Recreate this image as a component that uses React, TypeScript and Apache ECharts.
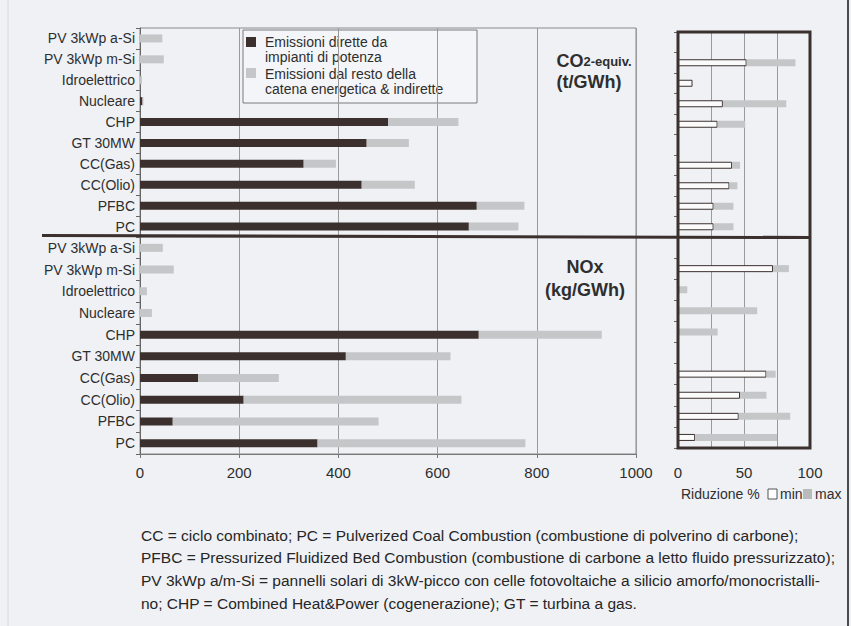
import React, { useEffect, useRef } from "react";
import * as echarts from "echarts";

const CATEGORIES = ["PV 3kWp a-Si", "PV 3kWp m-Si", "Idroelettrico", "Nucleare", "CHP", "GT 30MW", "CC(Gas)", "CC(Olio)", "PFBC", "PC"];

// CO2-equiv. (t/GWh)
const CO2_DIRECT = [0, 0, 0, 5, 500, 457, 330, 447, 679, 663];
const CO2_INDIRECT = [45, 48, 4, 2, 142, 85, 65, 107, 96, 100];
// NOx (kg/GWh)
const NOX_DIRECT = [0, 0, 0, 0, 683, 415, 117, 209, 66, 358];
const NOX_INDIRECT = [46, 68, 14, 24, 248, 211, 163, 439, 415, 419];
// Riduzione % (min / max)
const RED_CO2_MIN = [null, 52, 11, 34, 30, null, 41, 39, 27, 27];
const RED_CO2_MAX = [null, 89, 11, 82, 51, null, 47, 45, 42, 42];
const RED_NOX_MIN = [null, 72, 0, 0, 0, null, 67, 47, 46, 13];
const RED_NOX_MAX = [null, 84, 7, 60, 30, null, 74, 67, 85, 75];

const X_TICKS_LEFT = [0, 200, 400, 600, 800, 1000];
const X_TICKS_RIGHT = [0, 50, 100];

const CAPTION = [
  "CC = ciclo combinato; PC = Pulverized Coal Combustion (combustione di polverino di carbone);",
  "PFBC = Pressurized Fluidized Bed Combustion (combustione di carbone a letto fluido pressurizzato);",
  "PV 3kWp a/m-Si = pannelli solari di 3kW-picco con celle fotovoltaiche a silicio amorfo/monocristalli-",
  "no; CHP = Combined Heat&Power (cogenerazione); GT = turbina a gas.",
];

const DARK = "#3b302e";
const LIGHT = "#c5c6c8";
const TEXT = "#2e2e2e";
const FONT = "'Liberation Sans', Arial, sans-serif";

function minPart(arr: (number | null)[]) {
  return arr.map((v) => (v === null || v === 0 ? null : v));
}
function restPart(mins: (number | null)[], maxs: (number | null)[]) {
  return maxs.map((m, i) => {
    if (m === null) return null;
    const d = m - (mins[i] || 0);
    return d > 0 ? d : null;
  });
}

export default function App() {
  const ref = useRef<HTMLDivElement>(null);
  useEffect(() => {
    if (!ref.current) return;
    const chart = echarts.init(ref.current, null, { renderer: "svg" });
    const leftX = (gi: number, showLabels: boolean) => ({
      type: "value",
      gridIndex: gi,
      min: 0,
      max: 1000,
      interval: 200,
      axisLine: { show: showLabels, lineStyle: { color: "#777", width: 1 } },
      axisTick: { show: showLabels, length: 4, lineStyle: { color: "#777" } },
      axisLabel: {
        show: showLabels,
        fontSize: 15,
        color: TEXT,
        margin: 11,
        fontFamily: FONT,
        formatter: (v: number) => (X_TICKS_LEFT.includes(v) ? String(v) : ""),
      },
      splitLine: { show: true, lineStyle: { color: "#9a9a9a", width: 1 } },
    });
    const rightX = (gi: number, showLabels: boolean) => ({
      type: "value",
      gridIndex: gi,
      min: 0,
      max: 100,
      interval: 25,
      axisLine: { show: false },
      axisTick: { show: false },
      axisLabel: {
        show: showLabels,
        fontSize: 15,
        color: TEXT,
        margin: 17,
        fontFamily: FONT,
        formatter: (v: number) => (X_TICKS_RIGHT.includes(v) ? String(v) : ""),
      },
      splitLine: { show: true, lineStyle: { color: "#9a9a9a", width: 1 } },
    });
    const catY = (gi: number, showLabels: boolean) => ({
      type: "category",
      gridIndex: gi,
      inverse: true,
      data: CATEGORIES,
      axisLine: { show: true, lineStyle: { color: showLabels ? "#666" : DARK, width: showLabels ? 1 : 0 } },
      axisTick: { show: true, length: 4, inside: false, lineStyle: { color: "#666" } },
      axisLabel: { show: showLabels, fontSize: 14, color: TEXT, margin: 5, fontFamily: FONT },
      splitLine: { show: false },
    });

    const legendItems: any[] = [
      { type: "rect", shape: { x: 243, y: 30, width: 234, height: 73 }, style: { fill: "#f4f5f8", stroke: "#7a7a7a", lineWidth: 1 } },
      { type: "rect", shape: { x: 246, y: 37, width: 10, height: 10 }, style: { fill: DARK } },
      { type: "text", x: 265, y: 42, style: { text: "Emissioni dirette da", fontSize: 14, fill: TEXT, fontFamily: FONT, verticalAlign: "middle" } },
      { type: "text", x: 265, y: 57, style: { text: "impianti di potenza", fontSize: 14, fill: TEXT, fontFamily: FONT, verticalAlign: "middle" } },
      { type: "rect", shape: { x: 246, y: 68, width: 10, height: 10 }, style: { fill: LIGHT } },
      { type: "text", x: 265, y: 74, style: { text: "Emissioni dal resto della", fontSize: 14, fill: TEXT, fontFamily: FONT, verticalAlign: "middle" } },
      { type: "text", x: 265, y: 89, style: { text: "catena energetica & indirette", fontSize: 14, fill: TEXT, fontFamily: FONT, verticalAlign: "middle" } },
    ];

    const titles: any[] = [
      {
        type: "text",
        x: 594,
        y: 61,
        style: {
          text: "{a|CO}{b|2-equiv.}",
          align: "center",
          verticalAlign: "middle",
          rich: {
            a: { fontSize: 18, fontWeight: "bold", fill: TEXT, fontFamily: FONT },
            b: { fontSize: 13, fontWeight: "bold", fill: TEXT, fontFamily: FONT },
          },
        },
      },
      { type: "text", x: 589, y: 82, style: { text: "(t/GWh)", fontSize: 18, fontWeight: "bold", fill: TEXT, fontFamily: FONT, align: "center", verticalAlign: "middle" } },
      { type: "text", x: 585, y: 267, style: { text: "NOx", fontSize: 18, fontWeight: "bold", fill: TEXT, fontFamily: FONT, align: "center", verticalAlign: "middle" } },
      { type: "text", x: 585, y: 290, style: { text: "(kg/GWh)", fontSize: 18, fontWeight: "bold", fill: TEXT, fontFamily: FONT, align: "center", verticalAlign: "middle" } },
    ];

    const rightLegend: any[] = [
      { type: "text", x: 681, y: 494, style: { text: "Riduzione %", fontSize: 14, fill: TEXT, fontFamily: FONT, verticalAlign: "middle" } },
      { type: "rect", shape: { x: 768, y: 489, width: 9, height: 10 }, style: { fill: "#fff", stroke: "#555", lineWidth: 1 } },
      { type: "text", x: 780, y: 494, style: { text: "min", fontSize: 14, fill: TEXT, fontFamily: FONT, verticalAlign: "middle" } },
      { type: "rect", shape: { x: 803, y: 489, width: 9, height: 10 }, style: { fill: "#b9babc" } },
      { type: "text", x: 815, y: 494, style: { text: "max", fontSize: 14, fill: TEXT, fontFamily: FONT, verticalAlign: "middle" } },
    ];

    const caption: any[] = CAPTION.map((t, i) => ({
      type: "text",
      x: 141,
      y: 535 + i * 22.7,
      style: { text: t, fontSize: 15.5, fill: "#262626", fontFamily: FONT, verticalAlign: "middle" },
    }));

    const frames: any[] = [
      { type: "line", shape: { x1: 42, y1: 235.5, x2: 810, y2: 237.5 }, style: { stroke: DARK, lineWidth: 3 }, z: 10 },
      { type: "rect", shape: { x: 678, y: 32, width: 132, height: 416 }, style: { fill: "none", stroke: DARK, lineWidth: 3 }, z: 10 },
      { type: "line", shape: { x1: 848, y1: 0, x2: 848, y2: 626 }, style: { stroke: "#4a4a4a", lineWidth: 2 }, z: 10 },
      { type: "line", shape: { x1: 8, y1: 0, x2: 8, y2: 626 }, style: { stroke: "#d8dade", lineWidth: 1 }, z: 10 },
    ];

    const option: any = {
      animation: false,
      backgroundColor: "#eff1f5",
      textStyle: { fontFamily: FONT },
      grid: [
        { left: 140, top: 28, width: 496, height: 209, show: true, borderColor: "#8a8a8a", borderWidth: 1, backgroundColor: "transparent" },
        { left: 140, top: 237, width: 496, height: 217, show: true, borderColor: "#8a8a8a", borderWidth: 1, backgroundColor: "transparent" },
        { left: 678, top: 32, width: 132, height: 205 },
        { left: 678, top: 237, width: 132, height: 211 },
      ],
      xAxis: [leftX(0, false), leftX(1, true), rightX(2, false), rightX(3, true)],
      yAxis: [catY(0, true), catY(1, true), catY(2, false), catY(3, false)],
      series: [
        { type: "bar", name: "Emissioni dirette da impianti di potenza", xAxisIndex: 0, yAxisIndex: 0, stack: "co2", data: CO2_DIRECT, barWidth: 8, itemStyle: { color: DARK } },
        { type: "bar", name: "Emissioni dal resto della catena energetica & indirette", xAxisIndex: 0, yAxisIndex: 0, stack: "co2", data: CO2_INDIRECT, barWidth: 8, itemStyle: { color: LIGHT } },
        { type: "bar", name: "Emissioni dirette da impianti di potenza", xAxisIndex: 1, yAxisIndex: 1, stack: "nox", data: NOX_DIRECT, barWidth: 8, itemStyle: { color: DARK } },
        { type: "bar", name: "Emissioni dal resto della catena energetica & indirette", xAxisIndex: 1, yAxisIndex: 1, stack: "nox", data: NOX_INDIRECT, barWidth: 8, itemStyle: { color: LIGHT } },
        { type: "bar", name: "min", xAxisIndex: 2, yAxisIndex: 2, stack: "rc", data: minPart(RED_CO2_MIN), barWidth: 7, itemStyle: { color: "#fbfbfc", borderColor: DARK, borderWidth: 1 } },
        { type: "bar", name: "max", xAxisIndex: 2, yAxisIndex: 2, stack: "rc", data: restPart(RED_CO2_MIN, RED_CO2_MAX), barWidth: 7, itemStyle: { color: LIGHT } },
        { type: "bar", name: "min", xAxisIndex: 3, yAxisIndex: 3, stack: "rn", data: minPart(RED_NOX_MIN), barWidth: 7, itemStyle: { color: "#fbfbfc", borderColor: DARK, borderWidth: 1 } },
        { type: "bar", name: "max", xAxisIndex: 3, yAxisIndex: 3, stack: "rn", data: restPart(RED_NOX_MIN, RED_NOX_MAX), barWidth: 7, itemStyle: { color: LIGHT } },
      ],
      graphic: [...legendItems, ...titles, ...rightLegend, ...caption, ...frames],
    };
    chart.setOption(option);
    return () => chart.dispose();
  }, []);
  return <div ref={ref} style={{ position: "absolute", left: 0, top: 0, width: 851, height: 626 }} />;
}
